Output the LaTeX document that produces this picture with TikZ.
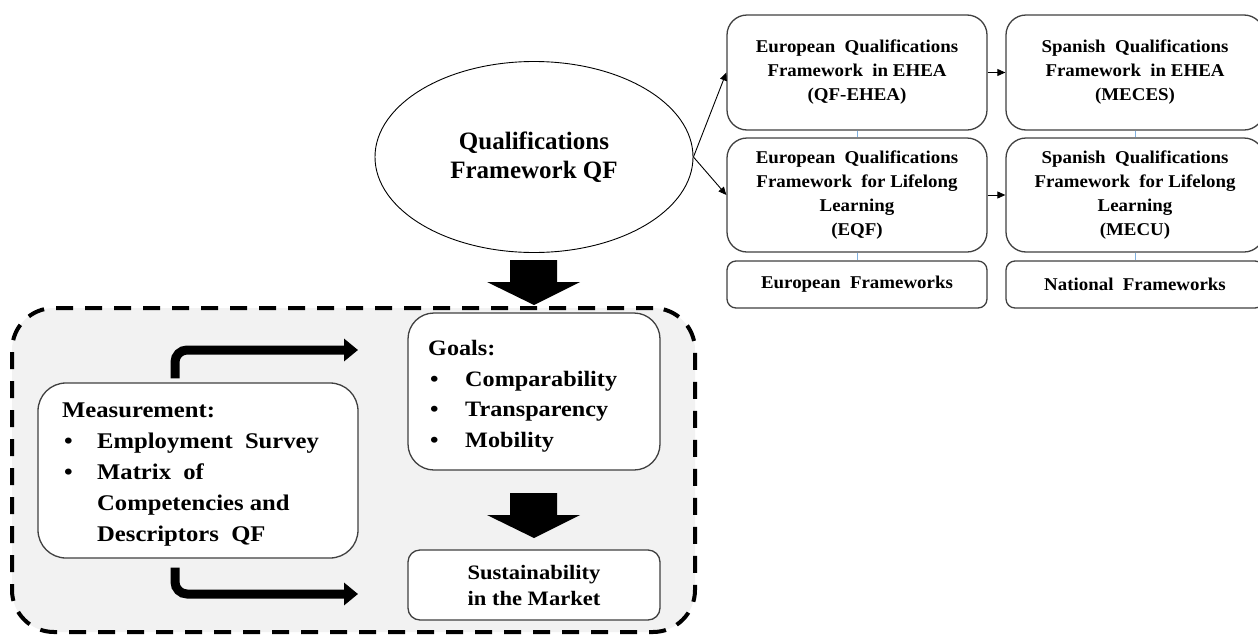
\documentclass[tikz,border=0pt]{standalone}
\usepackage{fontspec}
\setmainfont{Liberation Serif}
\newfontfamily\widefont{Liberation Serif}[FakeStretch=1.1]
\newfontfamily\midfont{Liberation Serif}[FakeStretch=1.05]
\usetikzlibrary{shapes.geometric,arrows.meta}
\definecolor{bordergray}{HTML}{404040}
\definecolor{panelgray}{HTML}{F2F2F2}
\definecolor{linkblue}{HTML}{7FB0E0}
\begin{document}
\begin{tikzpicture}[x=1pt,y=-1pt,
  rbox/.style={draw=bordergray, line width=1.3pt, fill=white, align=center, inner sep=2pt},
  smallfont/.style={font=\bfseries\midfont\fontsize{18}{24}\selectfont},
  thinarrow/.style={draw=black, line width=0.9pt, -{Triangle[length=8pt,width=7pt]}},
  linkline/.style={draw=linkblue, line width=0.9pt},
  bent/.style={draw=black, line width=9pt, rounded corners=12pt, -{Triangle[length=14pt,width=22pt]}},
  dashbox/.style={draw=black, line width=4pt, dash pattern=on 17pt off 12pt, fill=panelgray, rounded corners=42pt}
]
\useasboundingbox (0,0) rectangle (1258,635);

% dashed region
\node[dashbox, minimum width=683pt, minimum height=324pt, inner sep=0pt] (region) at (353.5,470) {};

% ellipse
\node[ellipse, draw=black, line width=0.9pt, fill=white, minimum width=318pt, minimum height=191pt,
      align=center, font=\bfseries\fontsize{25}{29}\selectfont] (qf) at (534,157)
      {Qualifications\\Framework QF};

% right frameworks
\node[rbox, smallfont, rounded corners=20pt, minimum width=260pt, minimum height=115pt] (eqfehea) at (857,72.5)
  {European\ \ Qualifications\\Framework\ \ in EHEA\\(QF-EHEA)};
\node[rbox, smallfont, rounded corners=20pt, minimum width=258pt, minimum height=115pt] (meces) at (1135,72.5)
  {Spanish\ \ Qualifications\\Framework\ \ in EHEA\\(MECES)};
\node[rbox, smallfont, rounded corners=20pt, minimum width=260pt, minimum height=114pt] (eqf) at (857,195)
  {European\ \ Qualifications\\Framework\ \ for Lifelong\\Learning\\(EQF)};
\node[rbox, smallfont, rounded corners=20pt, minimum width=258pt, minimum height=114pt] (mecu) at (1135,195)
  {Spanish\ \ Qualifications\\Framework\ \ for Lifelong\\Learning\\(MECU)};
\node[rbox, smallfont, rounded corners=9pt, minimum width=260pt, minimum height=47pt] (eurof) at (857,284.5)
  {European\ \ Frameworks};
\node[rbox, smallfont, rounded corners=9pt, minimum width=258pt, minimum height=47pt] (natf) at (1135,284.5)
  {National\ \ Frameworks};

\draw[linkline] (eqfehea.south) -- (eqf.north);
\draw[linkline] (eqf.south) -- (eurof.north);
\draw[linkline] (meces.south) -- (mecu.north);
\draw[linkline] (mecu.south) -- (natf.north);

\draw[thinarrow] (qf.east) -- (eqfehea.west);
\draw[thinarrow] (qf.east) -- (eqf.west);
\draw[thinarrow] (eqfehea.east) -- (meces.west);
\draw[thinarrow] (eqf.east) -- (mecu.west);

% big block arrow 1
\fill[black] (510,260) -- (557,260) -- (557,282) -- (580,282) -- (534,305) -- (487,282) -- (510,282) -- cycle;

% inner boxes
\node[rbox, rounded corners=26pt, minimum width=252pt, minimum height=157pt] (goals) at (534,391.5) {};
\node[anchor=north west, inner sep=0pt, align=left, font=\bfseries\widefont\fontsize{22}{30.7}\selectfont] (goalstext) at (428,340)
  {Goals:\\
   \makebox[37pt][l]{\hspace{2pt}\textbullet}Comparability\\
   \makebox[37pt][l]{\hspace{2pt}\textbullet}Transparency\\
   \makebox[37pt][l]{\hspace{2pt}\textbullet}Mobility};

\node[rbox, rounded corners=28pt, minimum width=320pt, minimum height=175pt] (meas) at (198,470.5) {};
\node[anchor=north west, inner sep=0pt, align=left, font=\bfseries\widefont\fontsize{22.4}{31}\selectfont] (meastext) at (62,403)
  {Measurement:\\
   \makebox[35pt][l]{\hspace{2pt}\textbullet}Employment\ \ Survey\\
   \makebox[35pt][l]{\hspace{2pt}\textbullet}Matrix\ \ of\\
   \hspace*{35pt}Competencies and\\
   \hspace*{35pt}Descriptors\ \ QF};

\node[rbox, rounded corners=12pt, minimum width=252pt, minimum height=70pt,
      font=\bfseries\widefont\fontsize{20.5}{26}\selectfont] (sust) at (534,585)
  {Sustainability\\in the Market};

% big block arrow 2
\fill[black] (510,493) -- (557,493) -- (557,515) -- (580,515) -- (534,538) -- (487,515) -- (510,515) -- cycle;

% bent arrows
\coordinate (bx) at (175,0);
\coordinate (t1) at (358,350);
\coordinate (t2) at (358,594);
\draw[bent] ([yshift=4pt]meas.north -| bx) |- (t1);
\draw[bent] ([yshift=-9pt]meas.south -| bx) |- (t2);
\end{tikzpicture}
\end{document}
